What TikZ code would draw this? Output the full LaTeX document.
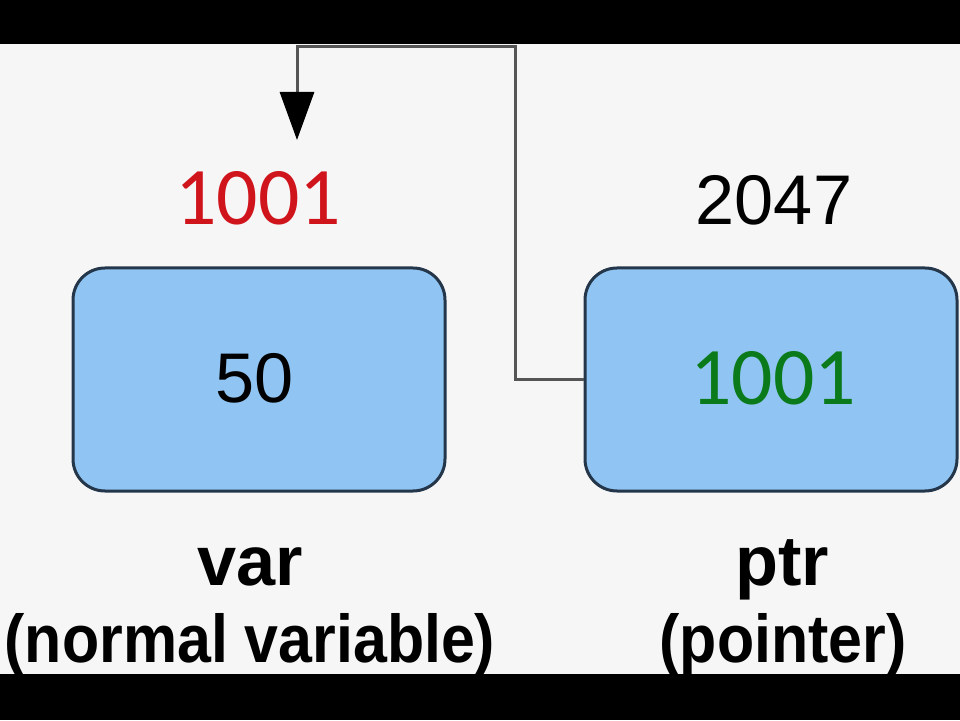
\documentclass[tikz,border=0pt]{standalone}
\usepackage{fontspec}
\setmainfont{Liberation Sans}
\newfontfamily\carlito{Carlito}
\usepackage{tikz}
\usetikzlibrary{positioning,calc,arrows.meta}
\definecolor{paper}{HTML}{F7F6F6}
\definecolor{cellblue}{HTML}{90C4F2}
\definecolor{celledge}{HTML}{24364A}
\definecolor{addrred}{HTML}{D0141C}
\definecolor{addrgreen}{HTML}{0A7A1A}
\definecolor{wire}{HTML}{555555}

\begin{document}
\begin{tikzpicture}[
	cell/.style={rectangle,draw=celledge,fill=cellblue,line width=0.06cm,rounded corners=0.64cm,minimum width=7.44cm,minimum height=4.46cm},
	addr/.style={anchor=base,inner sep=0pt,font=\fontsize{46.5}{50}\selectfont\carlito},
	val/.style={anchor=base,inner sep=0pt,font=\fontsize{40}{44}\selectfont},
	varlabel/.style={anchor=base,inner sep=0pt,font=\fontsize{40}{44}\selectfont\bfseries},
	subtag/.style={anchor=base,inner sep=0pt,font=\fontsize{38.5}{42}\selectfont\bfseries,xscale=0.9,transform shape}]

	\fill[paper] (0,0) rectangle (19.2,14.4);
	\fill[black] (0,13.52) rectangle (19.2,14.4);
	\fill[black] (0,0) rectangle (19.2,0.92);

	\node[cell] (varbox) at (5.18,6.81) {};
	\node[cell] (ptrbox) at (15.42,6.81) {};

	\node[addr,text=addrred] (varaddr) at (5.16,9.9) {1001};
	\node[val] (ptraddr) at (15.48,9.9) {2047};
	\node[val] (varval) at (5.1,6.34) {50};
	\node[addr,text=addrgreen] (ptrval) at (15.46,6.3) {1001};

	\node[varlabel] (varname) at (5.0,2.7) {var};
	\node[varlabel] (ptrname) at (15.64,2.7) {ptr};
	\node[subtag] (varnote) at (5.0,1.16) {(normal variable)};
	\node[subtag] (ptrnote) at (15.66,1.16) {(pointer)};

	\coordinate (bend) at (10.3,13.46);
	\coordinate (tip) at (5.94,11.6);
	\draw [wire,line width=0.06cm,-{Triangle[width=0.68cm,length=0.96cm,fill=black,color=black]}] (ptrbox.west) -| (bend) -| (tip);
\end{tikzpicture}
\end{document}
